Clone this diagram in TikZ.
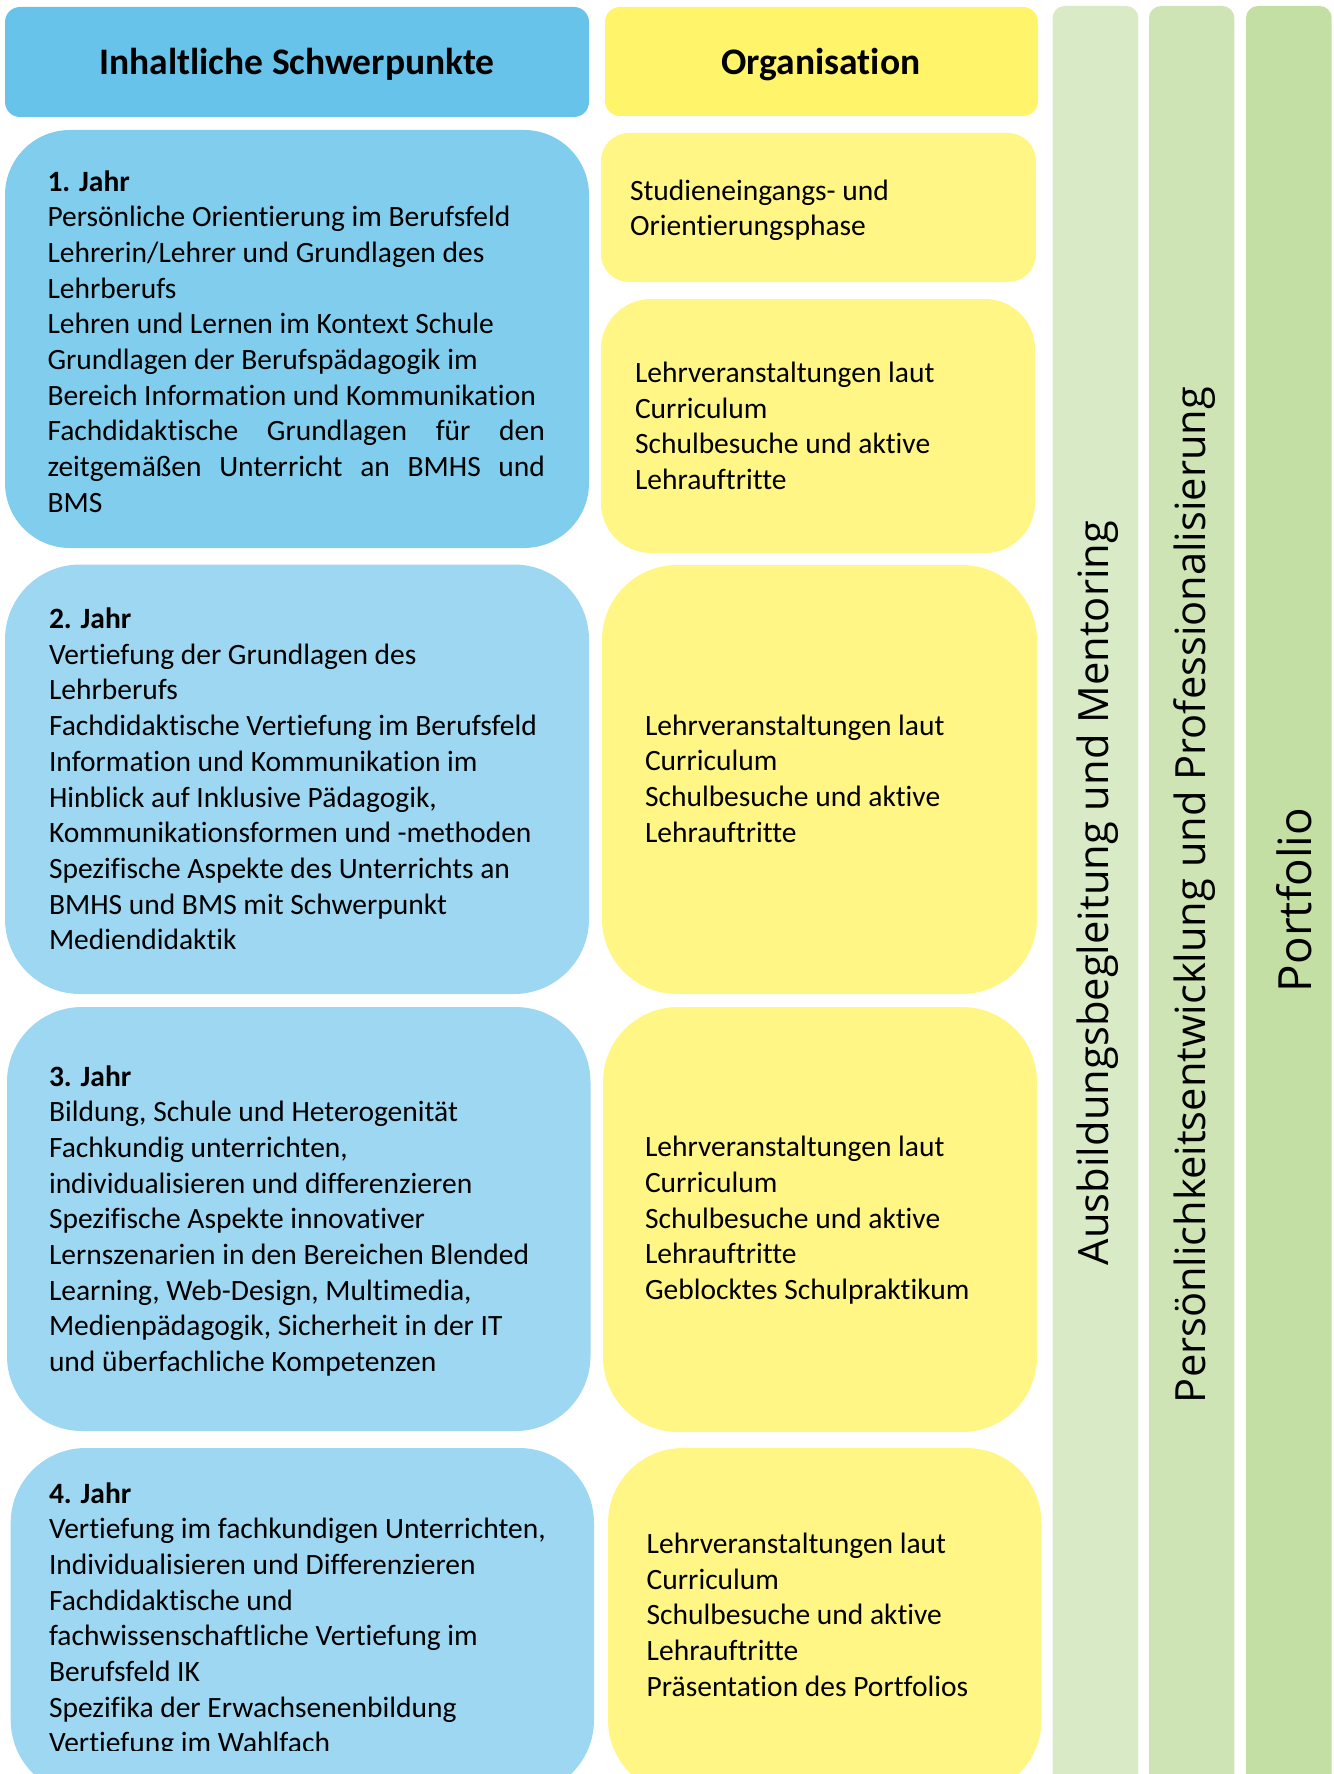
\documentclass[tikz,border=0pt]{standalone}
\usepackage{fontspec}
\setmainfont{Carlito}[Ligatures=NoCommon]
\newfontfamily\vfont{Open Sans}
\definecolor{hblue}{HTML}{67C3EA}
\definecolor{blueA}{HTML}{80CDEE}
\definecolor{blueB}{HTML}{9DD7F2}
\definecolor{hyellow}{HTML}{FFF46A}
\definecolor{yel}{HTML}{FFF685}
\definecolor{grA}{HTML}{D9EAC6}
\definecolor{grB}{HTML}{CFE4B4}
\definecolor{grC}{HTML}{C4DFA3}
\newcommand\bodyfnt{\fontsize{29.5pt}{35.7pt}\selectfont}
\newcommand\headfnt{\fontsize{37.5pt}{40pt}\selectfont\bfseries}
\begin{document}
\begin{tikzpicture}[x=1pt,y=-1pt,
  txt/.style={anchor=base west, inner sep=0pt, outer sep=0pt, font=\bodyfnt},
  head/.style={anchor=base, inner sep=0pt, outer sep=0pt, font=\headfnt},
  vtxt/.style={rotate=90, anchor=base, inner sep=0pt, outer sep=0pt}]
\useasboundingbox (0,0) rectangle (1333,1774);
% headers
\fill[hblue, rounded corners=15pt] (5,7) rectangle (589,117);
\fill[hyellow, rounded corners=15pt] (605,7) rectangle (1038,116);
% green bars
\fill[grA, rounded corners=12pt] (1052.5,6) rectangle (1138.3,1800);
\fill[grB, rounded corners=12pt] (1149,6) rectangle (1234.3,1800);
\fill[grC, rounded corners=12pt] (1246,6) rectangle (1331.7,1800);
% blue boxes
\fill[blueA, rounded corners=65pt] (5,130) rectangle (589,548);
\fill[blueB, rounded corners=75pt] (5,564.5) rectangle (589,994);
\fill[blueB, rounded corners=75pt] (7,1007) rectangle (590.5,1431);
\fill[blueB, rounded corners=75pt] (10.7,1448) rectangle (594,1795);
% yellow boxes
\fill[yel, rounded corners=28pt] (601,133) rectangle (1036,282);
\fill[yel, rounded corners=50pt] (601,299) rectangle (1035,553);
\fill[yel, rounded corners=75pt] (602,565) rectangle (1037,994);
\fill[yel, rounded corners=75pt] (603,1007) rectangle (1037,1432);
\fill[yel, rounded corners=75pt] (608,1448) rectangle (1041.5,1795);
% header texts
\node[head] (h1) at (297,74.6) {Inhaltliche Schwerpunkte};
\node[head] (h2) at (821,75) {Organisation};
% year texts
\node[txt] (j1) at (47.5,191) {\parbox[t]{497.5pt}{\bodyfnt
\textbf{1. Jahr}\\
Persönliche Orientierung im Berufsfeld\\
Lehrerin/Lehrer und Grundlagen des\\
Lehrberufs\\
Lehren und Lernen im Kontext Schule\\
Grundlagen der Berufspädagogik im\\
Bereich Information und Kommunikation\\
\makebox[\linewidth][s]{Fachdidaktische Grundlagen für den}\\
\makebox[\linewidth][s]{zeitgemäßen Unterricht an BMHS und}\\
BMS}};
\node[txt] (j2) at (49,628.5) {\parbox[t]{520pt}{\bodyfnt
\textbf{2. Jahr}\\
Vertiefung der Grundlagen des\\
Lehrberufs\\
Fachdidaktische Vertiefung im Berufsfeld\\
Information und Kommunikation im\\
Hinblick auf Inklusive Pädagogik,\\
Kommunikationsformen und -methoden\\
Spezifische Aspekte des Unterrichts an\\
BMHS und BMS mit Schwerpunkt\\
Mediendidaktik}};
\node[txt] (j3) at (49,1086) {\parbox[t]{520pt}{\bodyfnt
\textbf{3. Jahr}\\
Bildung, Schule und Heterogenität\\
Fachkundig unterrichten,\\
individualisieren und differenzieren\\
Spezifische Aspekte innovativer\\
Lernszenarien in den Bereichen Blended\\
Learning, Web-Design, Multimedia,\\
Medienpädagogik, Sicherheit in der IT\\
und überfachliche Kompetenzen}};
\begin{scope}
\clip (0,1440) rectangle (600,1750);
\node[txt] (j4) at (49,1503) {\parbox[t]{520pt}{\bodyfnt
\textbf{4. Jahr}\\
Vertiefung im fachkundigen Unterrichten,\\
Individualisieren und Differenzieren\\
Fachdidaktische und\\
fachwissenschaftliche Vertiefung im\\
Berufsfeld IK\\
Spezifika der Erwachsenenbildung\\
Vertiefung im Wahlfach}};
\end{scope}
% organisation texts
\node[txt] (o1) at (630,200) {\parbox[t]{400pt}{\bodyfnt
Studieneingangs- und\\
Orientierungsphase}};
\node[txt] (o2) at (635,382.4) {\parbox[t]{400pt}{\bodyfnt
Lehrveranstaltungen laut\\
Curriculum\\
Schulbesuche und aktive\\
Lehrauftritte}};
\node[txt] (o3) at (645,735) {\parbox[t]{380pt}{\bodyfnt
Lehrveranstaltungen laut\\
Curriculum\\
Schulbesuche und aktive\\
Lehrauftritte}};
\node[txt] (o4) at (645,1156.7) {\parbox[t]{380pt}{\bodyfnt
Lehrveranstaltungen laut\\
Curriculum\\
Schulbesuche und aktive\\
Lehrauftritte\\
Geblocktes Schulpraktikum}};
\node[txt] (o5) at (646.7,1553.3) {\parbox[t]{380pt}{\bodyfnt
Lehrveranstaltungen laut\\
Curriculum\\
Schulbesuche und aktive\\
Lehrauftritte\\
Präsentation des Portfolios}};
% vertical texts
\node[vtxt] (v1) at (1108,893) {\resizebox{744pt}{!}{\vfont\fontsize{41pt}{45pt}\selectfont Ausbildungsbegleitung und Mentoring}};
\node[vtxt] (v2) at (1205,895) {\resizebox{1016pt}{!}{\vfont\fontsize{41pt}{45pt}\selectfont Persönlichkeitsentwicklung und Professionalisierung}};
\node[vtxt] (v3) at (1311.7,900) {\resizebox{184pt}{!}{\vfont\fontsize{48pt}{52pt}\selectfont Portfolio}};
\end{tikzpicture}
\end{document}
